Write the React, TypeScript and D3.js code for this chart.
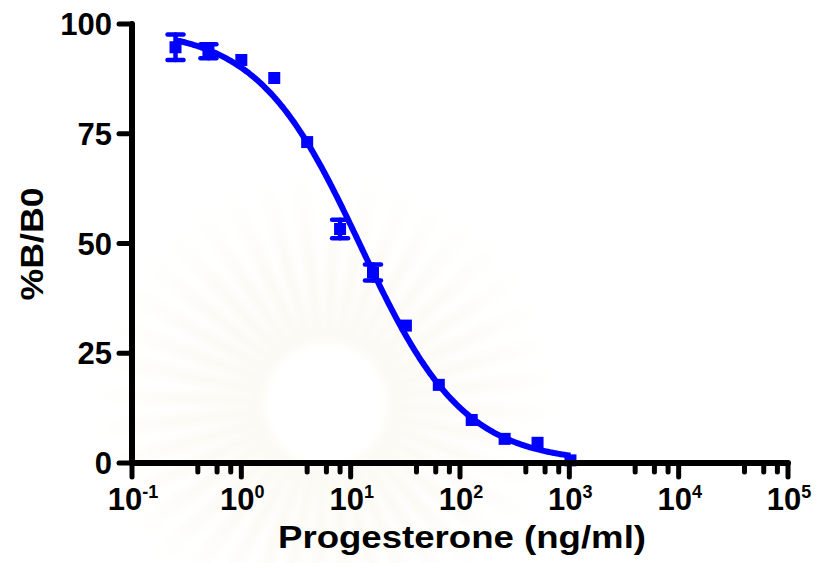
import React from "react";
import * as d3 from "d3";

// Progesterone standard curve (competitive assay), mean ± SD
const concentrations = [0.25, 0.5, 1, 2, 4, 8, 16, 32, 64, 128, 256, 512, 1024];
const percentBB0 = [94.7, 93.8, 91.8, 87.7, 73.1, 53.3, 43.4, 31.3, 17.8, 9.8, 5.5, 4.6, 0.6];
const sdBB0 = [2.9, 1.6, 0.8, 0.6, 0.8, 2.1, 1.8, 0.8, 0.7, 0.6, 0.6, 1.1, 0.9];

// Four-parameter logistic fit
const fitTop = 99;
const fitBottom = 0;
const fitIC50 = 12.3;
const fitHill = 0.92;

const yTicks = [0, 25, 50, 75, 100];
const xDecades = [-1, 0, 1, 2, 3, 4, 5];
const minorMultipliers = [4, 6, 8];

const W = 818;
const H = 563;
const FONT = "'Liberation Sans', Arial, Helvetica, sans-serif";
const BLUE = "#0000ff";

const fourPL = (x: number) =>
  fitBottom + (fitTop - fitBottom) / (1 + Math.pow(x / fitIC50, fitHill));

export default function App() {
  const x = d3.scaleLog().domain([0.1, 1e5]).range([132, 788]);
  const y = d3.scaleLinear().domain([0, 100]).range([463, 24]);

  const lo = Math.log10(concentrations[0]);
  const hi = Math.log10(concentrations[concentrations.length - 1]);
  const curveXs = d3.range(0, 401).map((i) => Math.pow(10, lo + (i / 400) * (hi - lo)));
  const line = d3
    .line<number>()
    .x((c) => x(c))
    .y((c) => y(fourPL(c)));

  const minorTicks: number[] = [];
  for (const d of xDecades.slice(0, -1)) {
    for (const m of minorMultipliers) minorTicks.push(m * Math.pow(10, d));
  }

  // faint emblem behind the plot
  const cx = 326;
  const cy = 404;
  const rays = d3.range(40).map((i) => {
    const a0 = (i / 40) * Math.PI * 2;
    const a1 = a0 + ((Math.PI * 2) / 40) * 0.55;
    return d3.arc()({
      innerRadius: 62,
      outerRadius: 235,
      startAngle: a0,
      endAngle: a1,
    }) as string;
  });

  const squareSize = 12;
  const capHalf = 8;

  return (
    <svg width={W} height={H} style={{ display: "block", position: "absolute", left: 0, top: 0 }}>
      <defs>
        <radialGradient id="rayFade" cx={0} cy={0} r={235} gradientUnits="userSpaceOnUse">
          <stop offset="0.25" stopColor="#f3eed8" stopOpacity={0.55} />
          <stop offset="1" stopColor="#f3eed8" stopOpacity={0} />
        </radialGradient>
        <filter id="soft" x="-20%" y="-20%" width="140%" height="140%">
          <feGaussianBlur stdDeviation={4} />
        </filter>
      </defs>
      <rect width={W} height={H} fill="#ffffff" />
      <g transform={`translate(${cx},${cy})`} filter="url(#soft)">
        {rays.map((p, i) => (
          <path key={i} d={p} fill="url(#rayFade)" />
        ))}
      </g>

      {/* fitted curve */}
      <path d={line(curveXs) ?? ""} fill="none" stroke={BLUE} strokeWidth={6} strokeLinejoin="round" />

      {/* error bars */}
      <g stroke={BLUE} strokeWidth={4.5} strokeLinecap="round">
        {concentrations.map((c, i) => {
          const px = x(c);
          const top = y(percentBB0[i] + sdBB0[i]);
          const bot = y(percentBB0[i] - sdBB0[i]);
          if (bot - top <= squareSize) return null;
          return (
            <g key={i}>
              <line x1={px} x2={px} y1={top} y2={bot} />
              <line x1={px - capHalf} x2={px + capHalf} y1={top} y2={top} />
              <line x1={px - capHalf} x2={px + capHalf} y1={bot} y2={bot} />
            </g>
          );
        })}
      </g>

      {/* data points */}
      <g fill={BLUE}>
        {concentrations.map((c, i) => (
          <rect
            key={i}
            x={x(c) - squareSize / 2}
            y={y(percentBB0[i]) - squareSize / 2}
            width={squareSize}
            height={squareSize}
          />
        ))}
      </g>

      {/* axes */}
      <g stroke="#000" strokeLinecap="round">
        <line x1={x(0.1)} x2={x(0.1)} y1={y(100)} y2={y(0)} strokeWidth={6} />
        <line x1={x(0.1)} x2={x(1e5)} y1={y(0)} y2={y(0)} strokeWidth={6} />
        {yTicks.map((t) => (
          <line key={t} x1={x(0.1) - 13} x2={x(0.1)} y1={y(t)} y2={y(t)} strokeWidth={5} />
        ))}
        {xDecades.map((d) => (
          <line key={d} x1={x(Math.pow(10, d))} x2={x(Math.pow(10, d))} y1={y(0)} y2={y(0) + 14} strokeWidth={5} />
        ))}
        {minorTicks.map((m, i) => (
          <line key={i} x1={x(m)} x2={x(m)} y1={y(0)} y2={y(0) + 9} strokeWidth={5} />
        ))}
      </g>

      {/* tick labels */}
      <g fontFamily={FONT} fontWeight="bold" fill="#000">
        {yTicks.map((t) => (
          <text key={t} x={112} y={y(t) + 11} fontSize={31} textAnchor="end">
            {t}
          </text>
        ))}
        {xDecades.map((d) => (
          <text key={d} x={x(Math.pow(10, d)) + 1} y={510} fontSize={31} textAnchor="middle">
            <tspan>10</tspan>
            <tspan fontSize={18} dy={-12}>{String(d)}</tspan>
          </text>
        ))}
      </g>

      {/* axis titles */}
      <text
        x={462}
        y={548}
        fontFamily={FONT}
        fontWeight="bold"
        fontSize={31}
        textAnchor="middle"
        textLength={368}
        lengthAdjust="spacingAndGlyphs"
      >
        Progesterone (ng/ml)
      </text>
      <text
        transform={`translate(43,244) rotate(-90)`}
        fontFamily={FONT}
        fontWeight="bold"
        fontSize={31}
        textAnchor="middle"
        textLength={113}
        lengthAdjust="spacingAndGlyphs"
      >
        %B/B0
      </text>
    </svg>
  );
}
